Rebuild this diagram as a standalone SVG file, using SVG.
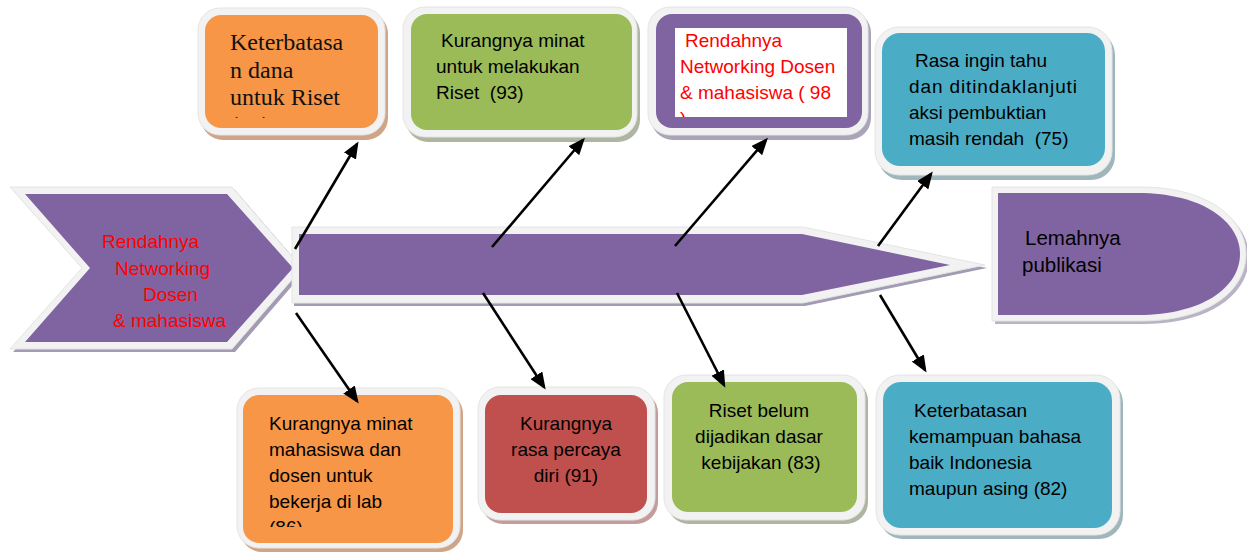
<svg xmlns="http://www.w3.org/2000/svg" width="1247" height="555" viewBox="0 0 1247 555">
  <style>
    .t { font-family: "Liberation Sans", Arial, sans-serif; font-size: 19px; fill: #000000; white-space: pre; }
    .red { fill: #FF0000; }
    .serif { font-family: "Liberation Serif", "Times New Roman", serif; font-size: 24px; fill: #111111; }
    .mid { text-anchor: middle; }
    .frame { fill: #F2F2F2; stroke: #E4E4E4; stroke-width: 1; }
    .purple { fill: #8064A2; }
    .orange { fill: #F79646; }
    .green { fill: #9BBB59; }
    .blue { fill: #4BACC6; }
    .brick { fill: #C0504D; }
    .conn { stroke: #000000; stroke-width: 2.6; fill: none; marker-end: url(#arrow); }
  </style>
  <defs>
    <marker id="arrow" markerUnits="userSpaceOnUse" markerWidth="17" markerHeight="14" refX="14" refY="7" orient="auto">
      <path d="M0,0 L17,7 L0,14 Z" fill="#000000"/>
    </marker>
    <clipPath id="clip1"><rect x="205" y="14" width="173" height="104"/></clipPath>
    <clipPath id="clip3"><rect x="675" y="28" width="172" height="89"/></clipPath>
    <clipPath id="clip5"><rect x="243" y="395" width="210" height="132"/></clipPath>
  </defs>

  <!-- spine: tail chevron, shaft, head -->
  <g id="tail">
    <polygon points="13,190 235,190 305,271 235,352 13,352 85,271" fill="#A39AB3"/>
    <polygon class="frame" points="10,187 232,187 302,268 232,349 10,349 82,268"/>
    <polygon class="purple" points="25,194 227,194 293,268 227,342 25,342 90,268"/>
    <text class="t red" x="102" y="248">Rendahnya</text>
    <text class="t red" x="115" y="275">Networking</text>
    <text class="t red" x="143" y="301">Dosen</text>
    <text class="t red" x="113" y="327">&amp; mahasiswa</text>
  </g>

  <g id="shaft">
    <polygon points="294,230 805,230 987,268 805,306 294,306" fill="#A39AB3"/>
    <polygon class="frame" points="292,227 803,227 985,265 803,303 292,303"/>
    <polygon class="purple" points="299,234 802,234 950,265 802,295 299,295"/>
  </g>

  <g id="head">
    <path d="M995,190 H1142 C1212,190 1249,223 1249,257 C1249,293 1212,324 1142,324 H995 Z" fill="#B9B3C4"/>
    <path class="frame" d="M992,187 H1140 C1210,187 1246,220 1246,254 C1246,290 1210,321 1140,321 H992 Z"/>
    <path class="purple" d="M998,193 H1138 C1203,193 1240,222 1240,254 C1240,287 1203,315 1138,315 H998 Z"/>
    <text class="t" x="1025" y="245" style="font-size:20.5px">Lemahnya</text>
    <text class="t" x="1022" y="272" style="font-size:20.5px">publikasi</text>
  </g>

  <!-- upper causes -->
  <g id="cause-dana">
    <rect x="201" y="12" width="187" height="128" rx="22" fill="#D0A486"/>
    <rect class="frame" x="198" y="8" width="187" height="127" rx="22"/>
    <rect class="orange" x="205" y="15" width="173" height="113" rx="16"/>
    <g clip-path="url(#clip1)">
      <text class="serif" x="230" y="50">Keterbatasa</text>
      <text class="serif" x="230" y="78">n dana</text>
      <text class="serif" x="230" y="105">untuk Riset</text>
      <text class="serif" x="230" y="133">(99)</text>
    </g>
  </g>

  <g id="cause-minat-riset">
    <rect x="406" y="11" width="234" height="131" rx="22" fill="#AEB5A0"/>
    <rect class="frame" x="403" y="7" width="234" height="130" rx="22"/>
    <rect class="green" x="411" y="14" width="221" height="116" rx="16"/>
    <text class="t" x="441" y="47">Kurangnya minat</text>
    <text class="t" x="436" y="73">untuk melakukan</text>
    <text class="t" x="436" y="99" xml:space="preserve">Riset  (93)</text>
  </g>

  <g id="cause-networking">
    <rect x="651" y="11" width="220" height="129" rx="22" fill="#ABA3B8"/>
    <rect class="frame" x="648" y="7" width="220" height="128" rx="22"/>
    <rect class="purple" x="656" y="14" width="206" height="114" rx="16"/>
    <rect x="675" y="28" width="172" height="89" fill="#FFFFFF"/>
    <g clip-path="url(#clip3)">
      <text class="t red" x="685" y="47">Rendahnya</text>
      <text class="t red" x="680" y="73">Networking Dosen</text>
      <text class="t red" x="680" y="99">&amp; mahasiswa ( 98</text>
      <text class="t red" x="680" y="125">)</text>
    </g>
  </g>

  <g id="cause-rasa-ingin-tahu">
    <rect x="878" y="31" width="237" height="149" rx="24" fill="#9FB6BD"/>
    <rect class="frame" x="875" y="27" width="237" height="148" rx="24"/>
    <rect class="blue" x="882" y="33" width="223" height="133" rx="18"/>
    <text class="t" x="915" y="67">Rasa ingin tahu</text>
    <text class="t" x="909" y="93" textLength="168" lengthAdjust="spacing">dan ditindaklanjuti</text>
    <text class="t" x="909" y="119">aksi pembuktian</text>
    <text class="t" x="909" y="145" xml:space="preserve">masih rendah  (75)</text>
  </g>

  <!-- lower causes -->
  <g id="cause-lab">
    <rect x="240" y="392" width="223" height="160" rx="22" fill="#D0A486"/>
    <rect class="frame" x="237" y="388" width="223" height="160" rx="22"/>
    <rect class="orange" x="243" y="395" width="210" height="148" rx="16"/>
    <g clip-path="url(#clip5)">
      <text class="t" x="269" y="430">Kurangnya minat</text>
      <text class="t" x="269" y="456">mahasiswa dan</text>
      <text class="t" x="269" y="482">dosen untuk</text>
      <text class="t" x="269" y="508">bekerja di lab</text>
      <text class="t" x="269" y="534">(86)</text>
    </g>
  </g>

  <g id="cause-percaya-diri">
    <rect x="481" y="391" width="177" height="133" rx="22" fill="#C49C9B"/>
    <rect class="frame" x="478" y="387" width="177" height="133" rx="22"/>
    <rect class="brick" x="485" y="395" width="162" height="118" rx="16"/>
    <text class="t mid" x="566" y="430">Kurangnya</text>
    <text class="t mid" x="566" y="456">rasa percaya</text>
    <text class="t mid" x="566" y="482">diri (91)</text>
  </g>

  <g id="cause-kebijakan">
    <rect x="667" y="379" width="201" height="145" rx="22" fill="#AEB5A0"/>
    <rect class="frame" x="664" y="375" width="201" height="145" rx="22"/>
    <rect class="green" x="672" y="382" width="185" height="130" rx="16"/>
    <text class="t mid" x="759" y="417">Riset belum</text>
    <text class="t mid" x="759" y="443">dijadikan dasar</text>
    <text class="t mid" x="761" y="469">kebijakan (83)</text>
  </g>

  <g id="cause-bahasa">
    <rect x="879" y="379" width="244" height="160" rx="24" fill="#9FB6BD"/>
    <rect class="frame" x="876" y="375" width="244" height="160" rx="24"/>
    <rect class="blue" x="883" y="382" width="229" height="146" rx="18"/>
    <text class="t" x="914" y="417">Keterbatasan</text>
    <text class="t" x="909" y="443">kemampuan bahasa</text>
    <text class="t" x="909" y="469">baik Indonesia</text>
    <text class="t" x="909" y="495">maupun asing (82)</text>
  </g>

  <!-- arrows from the spine to each cause -->
  <g id="connectors">
    <line class="conn" x1="295" y1="249" x2="357" y2="144"/>
    <line class="conn" x1="492" y1="247" x2="583" y2="140"/>
    <line class="conn" x1="675" y1="246" x2="766" y2="140"/>
    <line class="conn" x1="878" y1="246" x2="931" y2="174"/>
    <line class="conn" x1="296" y1="313" x2="357" y2="401"/>
    <line class="conn" x1="483" y1="293" x2="544" y2="387"/>
    <line class="conn" x1="677" y1="293" x2="724" y2="385"/>
    <line class="conn" x1="880" y1="295" x2="925" y2="370"/>
  </g>
</svg>
